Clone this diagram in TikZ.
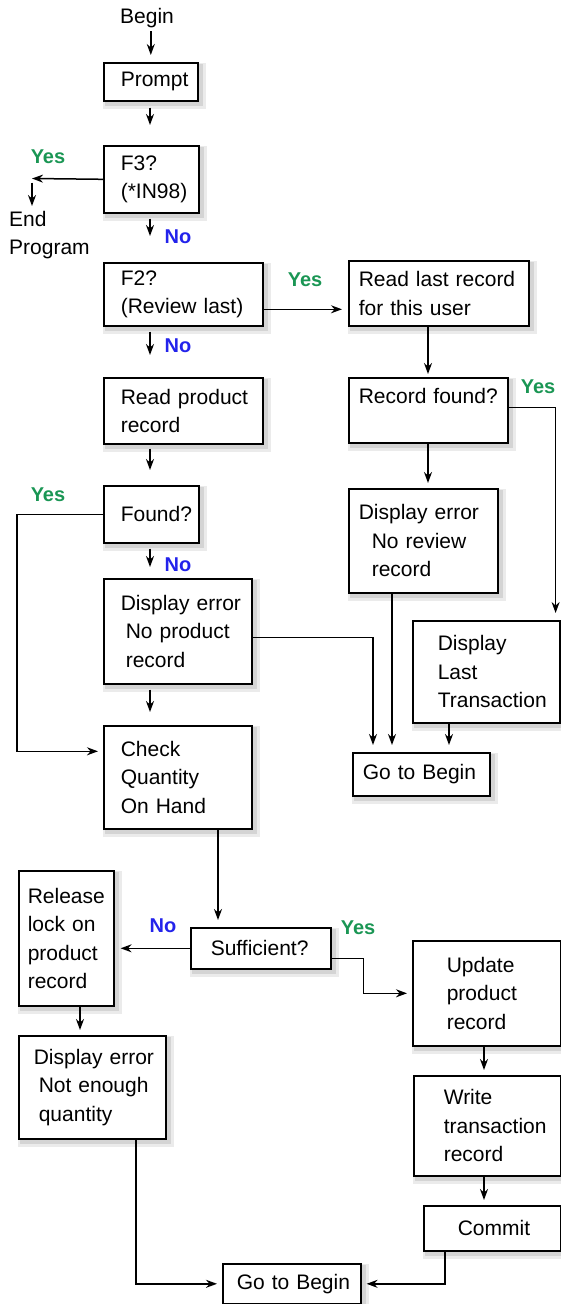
\documentclass[tikz,border=0pt]{standalone}
\usepackage{fontspec}
\setmainfont{Liberation Sans}
\usetikzlibrary{arrows.meta,backgrounds}
\definecolor{yesgreen}{RGB}{26,150,84}
\definecolor{noblue}{RGB}{35,35,235}
\tikzset{
    flow box/.style = {
        draw,
        line width=1.6pt,
        fill=white,
        anchor=north west,
        align=left,
        inner xsep=0pt,
        inner ysep=2pt,
        },
    box size/.style n args = {3}{
        minimum width=#1,
        text width=#1,
        minimum height=#2,
        execute at begin node={\leftskip=#3\hyphenpenalty=10000},
        },
    flow arrow/.style = {
        line width=1.5pt,
        -{Stealth[length=11pt, width=8pt]},
        shorten >=5pt,
        },
    yes label/.style = {
        text = yesgreen,
        font = \fontsize{20}{24}\selectfont\bfseries,
        },
    no label/.style = {
        text = noblue,
        font = \fontsize{20}{24}\selectfont\bfseries,
        },
}

\begin{document}
\begin{tikzpicture}[
        x=1pt, y=-1pt,
        font=\fontsize{21}{28.5}\selectfont,
    ]
    \useasboundingbox (0,0) rectangle (560,1304);

    % left column
    \node (begin) at (147,18) {Begin};
    \node [flow box, box size={94pt}{38pt}{17pt}] (prompt) at (103,62) {Prompt};
    \node [flow box, box size={95pt}{67pt}{17pt}] (f3) at (103,145) {F3?\\(*IN98)};
    \node [anchor=north west, align=left, inner sep=0pt] (endp) at (9,211) {End\\Program};
    \node [flow box, box size={159pt}{63pt}{17pt}] (f2) at (103,262) {F2?\\(Review last)};
    \node [flow box, box size={159pt}{66pt}{17pt}] (readprod) at (103,377) {Read product\\record};
    \node [flow box, box size={95pt}{57pt}{17pt}] (found) at (103,485) {Found?};
    \node [flow box, box size={148pt}{105pt}{17pt}] (errprod) at (103,578) {Display error\\\hspace*{5pt}No product\\\hspace*{5pt}record};
    \node [flow box, box size={148pt}{103pt}{17pt}] (check) at (103,725) {Check\\Quantity\\On Hand};

    % right column
    \node [flow box, box size={180pt}{65pt}{10pt}] (readlast) at (348,260) {Read last record\\for this user};
    \node [flow box, box size={159pt}{65pt}{10pt}] (recfound) at (348,377) {Record found?\\\mbox{}};
    \node [flow box, box size={149pt}{104pt}{10pt}] (errreview) at (348,488) {Display error\\\hspace*{13pt}No review\\\hspace*{13pt}record};
    \node [flow box, box size={147pt}{102pt}{25pt}] (lasttrans) at (412,620) {Display\\Last\\Transaction};
    \node [flow box, box size={137pt}{43pt}{10pt}] (gobegin1) at (352,752) {Go to Begin};

    % quantity part
    \node [flow box, box size={140pt}{41pt}{20pt}] (suff) at (190,927) {Sufficient?};
    \node [flow box, box size={95pt}{135pt}{9pt}] (release) at (18,870) {Release\\lock on\\product\\record};
    \node [flow box, box size={147pt}{103pt}{15pt}] (errqty) at (18,1035) {Display error\\\hspace*{5pt}Not enough\\\hspace*{5pt}quantity};
    \node [flow box, box size={148pt}{105pt}{34pt}] (update) at (412,940) {Update\\product\\record};
    \node [flow box, box size={147pt}{100pt}{30pt}] (write) at (413,1075) {Write\\transaction\\record};
    \node [flow box, box size={137pt}{45pt}{34pt}] (commit) at (423,1205) {Commit};
    \node [flow box, box size={138pt}{40pt}{14pt}] (gobegin2) at (222,1263) {Go to Begin};

    % soft shadows behind the boxes
    \begin{scope}[on background layer]
        \foreach \nd in {prompt,f3,f2,readprod,found,errprod,check,readlast,recfound,errreview,lasttrans,gobegin1,suff,release,errqty,update,write,commit,gobegin2} {
            \fill [black!8] ([shift={(0pt,-1pt)}]\nd.north west) rectangle ([shift={(7pt,-7pt)}]\nd.south east);
            \fill [black!17] ([shift={(2pt,-2pt)}]\nd.north west) rectangle ([shift={(4pt,-4pt)}]\nd.south east);
        }
    \end{scope}

    % yes / no labels
    \node [yes label] (yes1) at (48,157) {Yes};
    \node [no label] (no1) at (178,237) {No};
    \node [yes label] (yes2) at (305,280) {Yes};
    \node [no label] (no2) at (178,346) {No};
    \node [yes label] (yes3) at (538,387) {Yes};
    \node [yes label] (yes4) at (48,495) {Yes};
    \node [no label] (no3) at (178,565) {No};
    \node [no label] (no4) at (163,926) {No};
    \node [yes label] (yes5) at (358,928) {Yes};

    % straight down arrows
    \draw [flow arrow, shorten >=7pt] (prompt.north |- begin.south) -- (prompt.north);
    \draw [flow arrow, shorten <=6pt, shorten >=20pt] ([xshift=47pt]prompt.south west) -- ([xshift=47pt]prompt.south west |- f3.north);
    \draw [flow arrow, shorten <=5pt, shorten >=26pt] ([xshift=47pt]f3.south west) -- ([xshift=47pt]f3.south west |- f2.north);
    \draw [flow arrow, shorten <=5pt, shorten >=22pt] ([xshift=47pt]f2.south west) -- ([xshift=47pt]f2.south west |- readprod.north);
    \draw [flow arrow, shorten <=4pt, shorten >=15pt] ([xshift=47pt]readprod.south west) -- ([xshift=47pt]readprod.south west |- found.north);
    \draw [flow arrow, shorten <=5pt, shorten >=11pt] ([xshift=47pt]found.south west) -- ([xshift=47pt]found.south west |- errprod.north);
    \draw [flow arrow, shorten <=5pt, shorten >=13pt] ([xshift=47pt]errprod.south west) -- ([xshift=47pt]errprod.south west |- check.north);
    \draw [flow arrow, shorten >=3pt] ([xshift=80pt]readlast.south west) -- ([xshift=80pt]readlast.south west |- recfound.north);
    \draw [flow arrow] ([xshift=80pt]recfound.south west) -- ([xshift=80pt]recfound.south west |- errreview.north);
    \draw [flow arrow, shorten >=7pt] ([xshift=115pt]check.south west) -- ([xshift=115pt]check.south west |- suff.north);
    \draw [flow arrow] ([xshift=62pt]release.south west) -- ([xshift=62pt]release.south west |- errqty.north);
    \draw [flow arrow] ([xshift=72pt]update.south west) -- ([xshift=72pt]update.south west |- write.north);
    \draw [flow arrow] ([xshift=71pt]write.south west) -- ([xshift=71pt]write.south west |- commit.north);

    % yes branches
    \coordinate (endturn) at (32,178.5);
    \draw [flow arrow, shorten >=0pt] (f3.west) -- (endturn);
    \draw [flow arrow, shorten <=4pt] (endturn) -- (endturn |- endp.north);
    \draw [flow arrow, shorten >=6pt] ([yshift=-15pt]f2.east) -- ([yshift=-15pt]f2.east -| readlast.west);
    \draw [flow arrow, shorten >=7pt] ([yshift=3pt]recfound.east) -| ([xshift=-5pt]lasttrans.north east);
    \draw [flow arrow] (found.west) -- ++(-86,0) |- ([yshift=26pt]check.west);
    \draw [flow arrow] ([yshift=-10pt]suff.east) -- ++(32,0) |- (update.west);

    % to go to begin
    \draw [flow arrow, shorten >=7pt] ([yshift=-6pt]errprod.east) -| ([xshift=21pt]gobegin1.north west);
    \draw [flow arrow, shorten >=7pt] ([xshift=44pt]errreview.south west) -- ([xshift=44pt]errreview.south west |- gobegin1.north);
    \draw [flow arrow, shorten >=7pt] ([xshift=37pt]lasttrans.south west) -- ([xshift=37pt]lasttrans.south west |- gobegin1.north);
    \draw [flow arrow, shorten >=6pt] (suff.west) -- (suff.west -| release.east);
    \draw [flow arrow] ([xshift=118pt]errqty.south west) |- (gobegin2.west);
    \draw [flow arrow] ([xshift=22pt]commit.south west) |- (gobegin2.east);
\end{tikzpicture}
\end{document}
